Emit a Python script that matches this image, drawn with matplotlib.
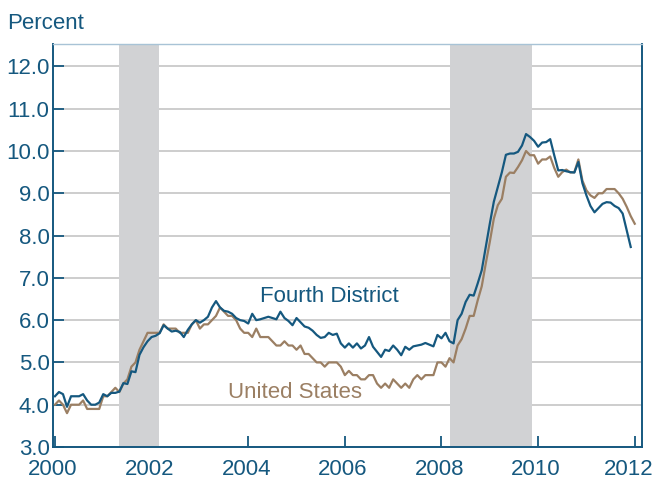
import numpy as np
import matplotlib
matplotlib.use("Agg")
import matplotlib.pyplot as plt
import matplotlib.transforms as mtransforms

# Monthly unemployment rate, Jan 2000 onward (percent)
fourth_district = [
    4.2, 4.3, 4.25, 3.95, 4.2, 4.2, 4.2, 4.25, 4.1, 4.0, 4.0, 4.05,
    4.25, 4.2, 4.28, 4.28, 4.31, 4.51, 4.49, 4.79, 4.77, 5.18, 5.36, 5.5,
    5.6, 5.63, 5.69, 5.88, 5.8, 5.73, 5.75, 5.72, 5.6, 5.77, 5.9, 6.0,
    5.94, 6.0, 6.08, 6.3, 6.45, 6.3, 6.22, 6.2, 6.15, 6.05, 6.0, 5.98,
    5.92, 6.15, 6.0, 6.02, 6.05, 6.08, 6.05, 6.02, 6.2, 6.05, 5.98, 5.88,
    6.05, 5.95, 5.85, 5.82, 5.75, 5.65, 5.58, 5.6, 5.7, 5.65, 5.68, 5.45,
    5.35, 5.45, 5.35, 5.45, 5.33, 5.4, 5.6, 5.37, 5.25, 5.13, 5.3, 5.27,
    5.4, 5.3, 5.17, 5.37, 5.3, 5.38, 5.4, 5.42, 5.46, 5.42, 5.38, 5.65,
    5.57, 5.7, 5.5, 5.45, 6.0, 6.15, 6.43, 6.6, 6.58, 6.87, 7.18, 7.73,
    8.28, 8.8, 9.15, 9.5, 9.91, 9.94, 9.94, 9.98, 10.13, 10.4, 10.33, 10.24,
    10.1, 10.2, 10.21, 10.28, 9.9, 9.54, 9.55, 9.52, 9.5, 9.49, 9.74, 9.24,
    8.95, 8.7, 8.55, 8.65, 8.75, 8.79, 8.78, 8.7, 8.65, 8.52, 8.13, 7.73,
]
united_states = [
    4.0, 4.1, 4.0, 3.8, 4.0, 4.0, 4.0, 4.1, 3.9, 3.9, 3.9, 3.9,
    4.2, 4.2, 4.3, 4.4, 4.3, 4.5, 4.6, 4.9, 5.0, 5.3, 5.5, 5.7,
    5.7, 5.7, 5.7, 5.9, 5.8, 5.8, 5.8, 5.7, 5.7, 5.7, 5.9, 6.0,
    5.8, 5.9, 5.9, 6.0, 6.1, 6.3, 6.2, 6.1, 6.1, 6.0, 5.8, 5.7,
    5.7, 5.6, 5.8, 5.6, 5.6, 5.6, 5.5, 5.4, 5.4, 5.5, 5.4, 5.4,
    5.3, 5.4, 5.2, 5.2, 5.1, 5.0, 5.0, 4.9, 5.0, 5.0, 5.0, 4.9,
    4.7, 4.8, 4.7, 4.7, 4.6, 4.6, 4.7, 4.7, 4.5, 4.4, 4.5, 4.4,
    4.6, 4.5, 4.4, 4.5, 4.4, 4.6, 4.7, 4.6, 4.7, 4.7, 4.7, 5.0,
    5.0, 4.9, 5.1, 5.0, 5.4, 5.55, 5.8, 6.1, 6.1, 6.47, 6.8, 7.34,
    7.85, 8.4, 8.72, 8.87, 9.39, 9.49, 9.48, 9.62, 9.78, 10.0, 9.9, 9.9,
    9.7, 9.8, 9.8, 9.87, 9.6, 9.39, 9.5, 9.56, 9.49, 9.5, 9.8, 9.3,
    9.07, 8.95, 8.89, 9.0, 9.0, 9.1, 9.1, 9.1, 9.0, 8.87, 8.68, 8.46,
    8.28,
]
recessions = [(2001.33, 2002.16), (2008.18, 2009.88)]
year_ticks = [2000, 2002, 2004, 2006, 2008, 2010, 2012]
pct_ticks = [3.0, 4.0, 5.0, 6.0, 7.0, 8.0, 9.0, 10.0, 11.0, 12.0]

blue = "#15587F"
brown = "#9B7F63"
shade = "#D1D2D4"
grid = "#C9C9C9"
fs = 16

plt.rcParams["font.family"] = ["Liberation Sans", "DejaVu Sans"]

fig = plt.figure(figsize=(6.57, 4.82), dpi=100)
ax = fig.add_axes([53 / 657, 1 - 447 / 482, 589 / 657, 403 / 482])

x_fd = 2000 + np.arange(len(fourth_district)) / 12
x_us = 2000 + np.arange(len(united_states)) / 12

for start, end in recessions:
    ax.axvspan(start, end, color=shade, lw=0, zorder=1)

ax.plot(x_us, united_states, color=brown, lw=1.6, zorder=3)
ax.plot(x_fd, fourth_district, color=blue, lw=1.6, zorder=4)

ax.set_xlim(1999.96, 2012.15)
ax.set_ylim(3.0, 12.53)
ax.set_xticks(year_ticks)
ax.set_yticks(pct_ticks)
ax.set_yticklabels([f"{v:.1f}" for v in pct_ticks])

ax.yaxis.grid(True, color=grid, lw=1.3)
ax.set_axisbelow(True)

ax.tick_params(axis="both", direction="in", colors=blue, labelsize=fs,
               length=8, width=1.3)
ax.tick_params(axis="y", pad=2.5)
ax.tick_params(axis="x", pad=8.5)

# nudge year labels a little left, the last one more so it stays inside
labels = ax.get_xticklabels()
for i, lab in enumerate(labels):
    dx = -6 if i == len(labels) - 1 else -2
    lab.set_transform(lab.get_transform() +
                      mtransforms.ScaledTranslation(dx / 100, 0, fig.dpi_scale_trans))

for side in ["left", "bottom", "right"]:
    ax.spines[side].set_color(blue)
    ax.spines[side].set_linewidth(1.4)
ax.spines["top"].set_color("#A8C3D6")
ax.spines["top"].set_linewidth(1.0)

ax.text(2004.24, 6.43, "Fourth District", color=blue, fontsize=fs,
        va="baseline", ha="left")
ax.text(2003.58, 4.16, "United States", color=brown, fontsize=fs,
        va="baseline", ha="left")
fig.text(7 / 657, 1 - 29 / 482, "Percent", color=blue, fontsize=fs,
         va="baseline", ha="left")

fig.savefig("out.png", dpi=100)
